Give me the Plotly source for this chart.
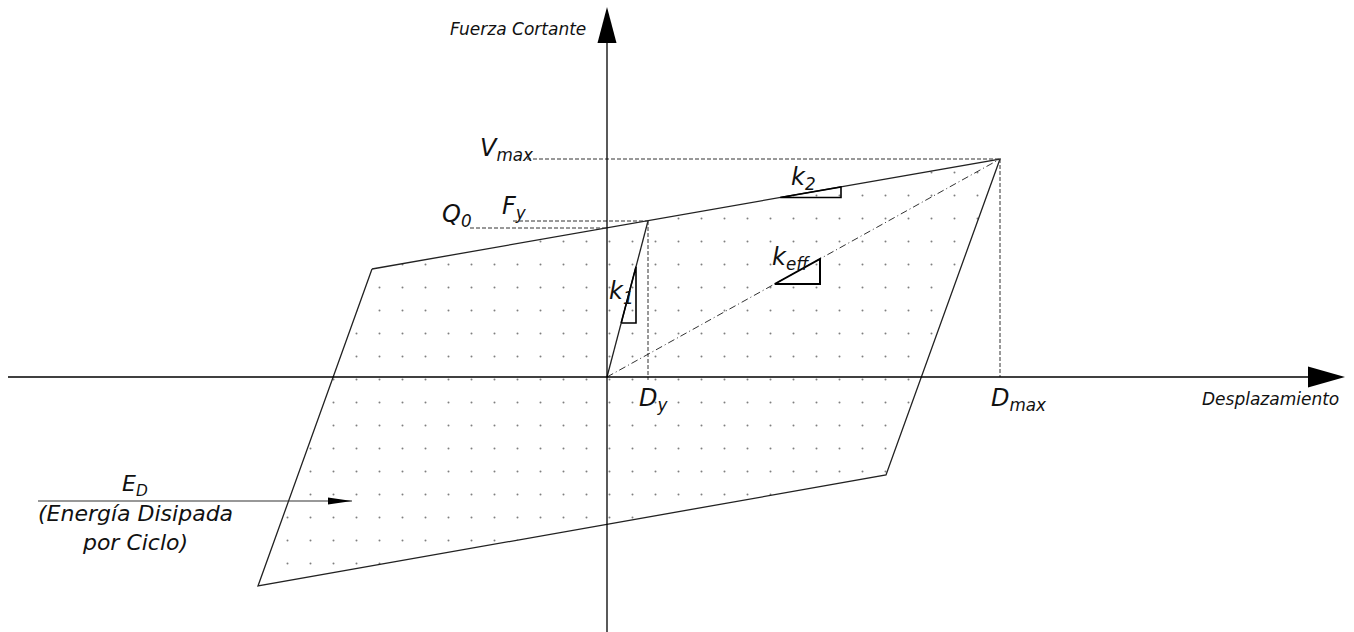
import plotly.graph_objects as go

# ---------------- data (arbitrary units: displacement, shear force) ----------------
D_y = 0.41      # yield displacement
F_y = 1.56      # yield force
Q_0 = 1.49      # characteristic strength (intercept)
D_max = 3.93    # maximum displacement
V_max = 2.18    # maximum shear

# hysteresis loop corners (displacement, force)
loop_x = [-2.35, D_max, 2.79, -3.49, -2.35]
loop_y = [1.08, V_max, -0.98, -2.09, 1.08]

# axis extents
x_axis_from, x_axis_to = -5.99, 7.38
y_axis_from, y_axis_to = -2.55, 3.70

# guide-line starting abscissas (left ends of dashed horizontals)
vmax_guide_from = -0.80
fy_guide_from = -0.94
q0_guide_from = -1.37

# stiffness triangles: base height, right-leg abscissa
k2_tri_y, k2_tri_x = 1.795, 2.34
keff_tri_y, keff_tri_x = 0.93, 2.13
k1_tri_y, k1_tri_x = 0.54, 0.29

# energy arrow
ed_arrow_x = [-5.69, -2.55]
ed_arrow_y = -1.24

FONT = "DejaVu Sans, Liberation Sans, Arial"
LINE = "#222222"

# slopes of the branches
s_top = (V_max - loop_y[0]) / (D_max - loop_x[0])
s_k1 = F_y / D_y
s_eff = V_max / D_max


def top(x):
    return loop_y[0] + s_top * (x - loop_x[0])


fig = go.Figure()

# dotted fill of the loop
fig.add_trace(go.Scatter(
    x=loop_x, y=loop_y, mode="lines", fill="toself",
    fillcolor="white",
    fillpattern=dict(shape=".", size=23, solidity=0.006, fgcolor="#000000"),
    line=dict(color=LINE, width=1.3), hoverinfo="skip"))

# elastic branch
fig.add_trace(go.Scatter(x=[0, D_y], y=[0, F_y], mode="lines",
                         line=dict(color=LINE, width=1.3), hoverinfo="skip"))

# effective stiffness (dash-dot)
fig.add_trace(go.Scatter(x=[0, D_max], y=[0, V_max], mode="lines",
                         line=dict(color="#333333", width=1, dash="7px,3px,1px,3px"),
                         hoverinfo="skip"))

dash = dict(color="#333333", width=1, dash="4px,2px")
# horizontal guides
fig.add_trace(go.Scatter(x=[vmax_guide_from, D_max], y=[V_max, V_max], mode="lines",
                         line=dash, hoverinfo="skip"))
fig.add_trace(go.Scatter(x=[fy_guide_from, D_y], y=[F_y, F_y], mode="lines",
                         line=dash, hoverinfo="skip"))
fig.add_trace(go.Scatter(x=[q0_guide_from, 0], y=[Q_0, Q_0], mode="lines",
                         line=dash, hoverinfo="skip"))
# vertical guides
fig.add_trace(go.Scatter(x=[D_y, D_y], y=[F_y, -0.03], mode="lines",
                         line=dash, hoverinfo="skip"))
fig.add_trace(go.Scatter(x=[D_max, D_max], y=[V_max, 0], mode="lines",
                         line=dash, hoverinfo="skip"))

tri = dict(color="black", width=1.6)
# k2 triangle
x0 = loop_x[0] + (k2_tri_y - loop_y[0]) / s_top
fig.add_trace(go.Scatter(x=[x0, k2_tri_x, k2_tri_x, x0],
                         y=[k2_tri_y, k2_tri_y, top(k2_tri_x), k2_tri_y],
                         mode="lines", line=tri, hoverinfo="skip"))
# keff triangle
x0 = keff_tri_y / s_eff
fig.add_trace(go.Scatter(x=[x0, keff_tri_x, keff_tri_x, x0],
                         y=[keff_tri_y, keff_tri_y, s_eff * keff_tri_x, keff_tri_y],
                         mode="lines", line=dict(color="black", width=2), hoverinfo="skip"))
# k1 triangle
x0 = k1_tri_y / s_k1
fig.add_trace(go.Scatter(x=[x0, k1_tri_x, k1_tri_x, x0],
                         y=[k1_tri_y, k1_tri_y, s_k1 * k1_tri_x, k1_tri_y],
                         mode="lines", line=tri, hoverinfo="skip"))

# axes
fig.add_trace(go.Scatter(x=[x_axis_from, x_axis_to - 0.3], y=[0, 0], mode="lines",
                         line=dict(color="black", width=1.3), hoverinfo="skip"))
fig.add_trace(go.Scatter(x=[0, 0], y=[y_axis_from, y_axis_to - 0.3], mode="lines",
                         line=dict(color="black", width=1.3), hoverinfo="skip"))
# energy arrow shaft
fig.add_trace(go.Scatter(x=ed_arrow_x, y=[ed_arrow_y, ed_arrow_y], mode="lines",
                         line=dict(color="#333333", width=1.2), hoverinfo="skip"))

shapes = [
    dict(type="path", xsizemode="pixel", ysizemode="pixel", xref="x", yref="y",
         xanchor=x_axis_to, yanchor=0, path="M0,0 L-37,10.5 L-37,-10.5 Z",
         fillcolor="black", line=dict(width=0)),
    dict(type="path", xsizemode="pixel", ysizemode="pixel", xref="x", yref="y",
         xanchor=0, yanchor=y_axis_to, path="M0,0 L-9.5,-36 L9.5,-36 Z",
         fillcolor="black", line=dict(width=0)),
    dict(type="path", xsizemode="pixel", ysizemode="pixel", xref="x", yref="y",
         xanchor=ed_arrow_x[1], yanchor=ed_arrow_y, path="M0,0 L-24,3.5 L-24,-3.5 Z",
         fillcolor="black", line=dict(width=0)),
]


def ann(text, x, y, size, xanchor="left", yanchor="middle", align="left"):
    return dict(text=text, x=x, y=y, xref="x", yref="y", showarrow=False,
                xanchor=xanchor, yanchor=yanchor, align=align,
                font=dict(family=FONT, size=size, color="#111111", style="italic"))


annotations = [
    ann("Fuerza Cortante", -0.19, 3.48, 17, xanchor="right"),
    ann("Desplazamiento", 7.34, -0.22, 17, xanchor="right"),
    ann("V<sub>max</sub>", -0.71, 2.28, 24, xanchor="right"),
    ann("F<sub>y</sub>", -1.07, 1.70, 24),
    ann("Q<sub>0</sub>", -1.67, 1.62, 24),
    ann("k<sub>2</sub>", 1.82, 1.99, 24),
    ann("k<sub>eff</sub>", 1.63, 1.19, 24),
    ann("k<sub>1</sub>", 0.00, 0.85, 24),
    ann("D<sub>y</sub>", 0.30, -0.22, 24),
    ann("D<sub>max</sub>", 3.82, -0.22, 24),
    ann("E<sub>D</sub>", -4.72, -1.08, 22, xanchor="center"),
    ann("(Energía Disipada<br>por Ciclo)", -4.72, -1.51, 22,
        xanchor="center", align="center"),
]

fig.update_layout(
    width=1354, height=632,
    margin=dict(l=0, r=0, t=0, b=0),
    paper_bgcolor="white", plot_bgcolor="white",
    showlegend=False,
    xaxis=dict(range=[-6.07, 7.47], visible=False, fixedrange=True),
    yaxis=dict(range=[-2.55, 3.77], visible=False, fixedrange=True),
    shapes=shapes, annotations=annotations,
)

fig.write_html("out.html", config={"displayModeBar": False},
               post_script="document.body.style.margin='0px';")
